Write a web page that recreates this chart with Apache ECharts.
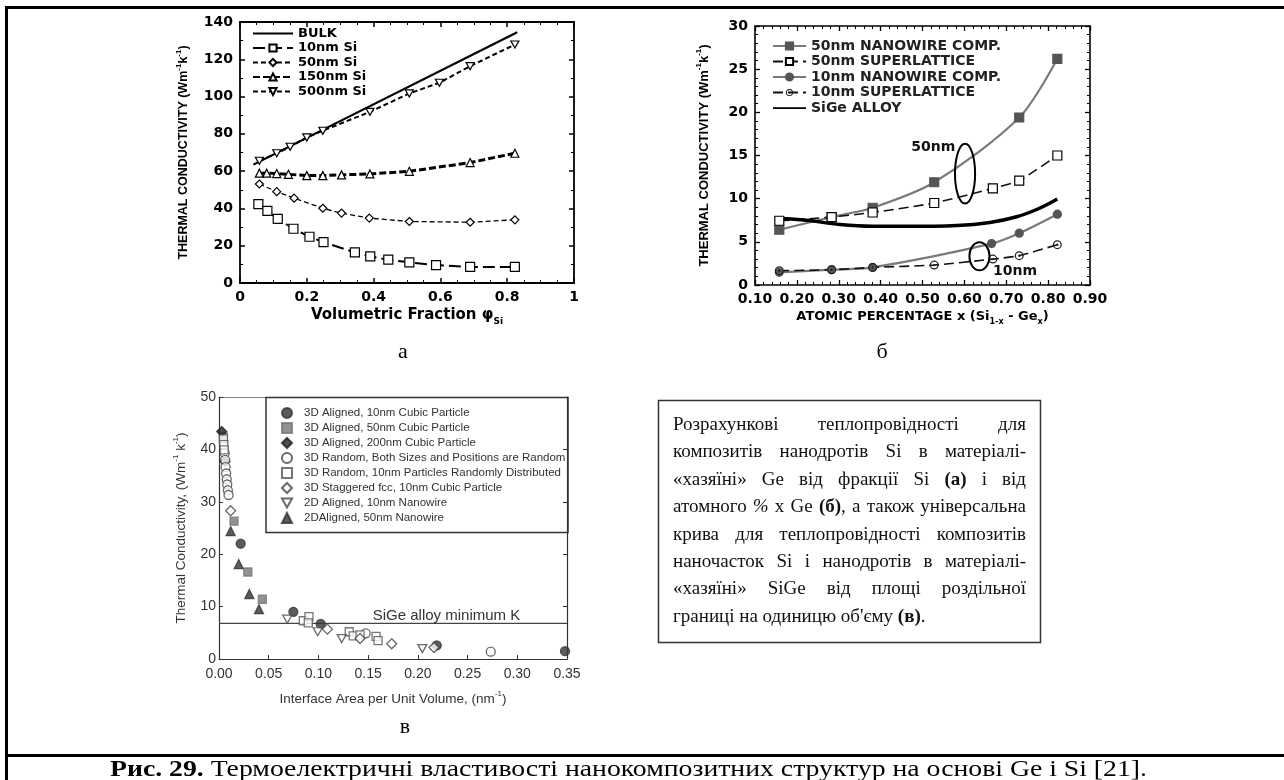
<!DOCTYPE html>
<html><head><meta charset="utf-8">
<script src="https://cdn.jsdelivr.net/npm/echarts@6/dist/echarts.min.js"></script>
<style>html,body{margin:0;padding:0;background:#fff}#c{width:1284px;height:780px}</style>
</head><body><div id="c"></div>
<script>
// ---------------- Chart а : Thermal conductivity vs volumetric fraction ----------------
const A_X_TICKS = {min:0, max:1, interval:0.2};
const A_Y_TICKS = {min:0, max:140, interval:20};
const A_BULK  = [[0.04,63.5],[0.83,134.5]];
const A_10NM  = [[0.055,42.3],[0.082,38.7],[0.113,34.4],[0.160,29.1],[0.208,24.8],[0.250,21.9],[0.344,16.4],[0.390,14.3],[0.444,12.5],[0.507,11.1],[0.587,9.6],[0.689,8.6],[0.823,8.6]];
const A_50NM  = [[0.058,53.1],[0.110,49.0],[0.162,45.5],[0.248,40.1],[0.304,37.5],[0.387,34.8],[0.507,33.0],[0.689,32.6],[0.823,33.9]];
const A_150NM = [[0.058,58.9],[0.080,58.9],[0.110,58.7],[0.145,58.3],[0.200,57.6],[0.248,57.6],[0.304,58.0],[0.389,58.5],[0.507,59.9],[0.689,64.6],[0.823,69.6]];
const A_500NM = [[0.058,65.6],[0.110,69.6],[0.150,73.1],[0.200,78.1],[0.248,81.7],[0.389,91.8],[0.507,101.7],[0.597,107.4],[0.689,116.3],[0.823,127.9]];
const A_NAMES = ['BULK','10nm Si','50nm Si','150nm Si','500nm Si'];

// ---------------- Chart б : Thermal conductivity vs atomic percentage ----------------
const B_X_TICKS = {min:0.1, max:0.9, interval:0.1};
const B_Y_TICKS = {min:0, max:30, interval:5};
const B_50NW  = [[0.158,6.4],[0.283,7.87],[0.381,8.95],[0.528,11.9],[0.731,19.4],[0.822,26.2]];
const B_50SL  = [[0.158,7.44],[0.283,7.87],[0.381,8.4],[0.528,9.5],[0.668,11.2],[0.731,12.1],[0.822,15.0]];
const B_10NW  = [[0.158,1.47],[0.283,1.77],[0.381,2.04],[0.665,4.8],[0.731,6.0],[0.822,8.2]];
const B_10SL  = [[0.158,1.66],[0.283,1.77],[0.381,2.04],[0.528,2.31],[0.668,3.0],[0.731,3.4],[0.822,4.67]];
const B_SIGE  = [[0.158,7.7],[0.223,7.5],[0.303,7.0],[0.381,6.8],[0.462,6.8],[0.582,6.9],[0.661,7.25],[0.725,7.9],[0.78,8.9],[0.822,9.95]];
const B_NAMES = ['50nm NANOWIRE COMP.','50nm SUPERLATTICE','10nm NANOWIRE COMP.','10nm SUPERLATTICE','SiGe ALLOY'];
const B_ELLIPSES = [ {c:[0.6016,12.9], r:[0.024,3.47]}, {c:[0.636,3.32], r:[0.024,1.62]} ];
const B_NOTES = [ {text:'50nm', at:[0.526,16.0]}, {text:'10nm', at:[0.721,1.58]} ];

// ---------------- Chart в : Thermal conductivity vs interface area ----------------
const C_X_TICKS = {min:0, max:0.35, interval:0.05};
const C_Y_TICKS = {min:0, max:50, interval:10};
const C_AL10   = [[0.0218,22.0],[0.0748,9.0],[0.1023,6.7],[0.219,2.6],[0.348,1.5]];
const C_AL50   = [[0.0043,42.4],[0.0151,26.3],[0.029,16.6],[0.0436,11.4]];
const C_AL200  = [[0.0027,43.4],[0.006,37.7]];
const C_RBOTH  = [[0.0058,39.3],[0.0062,38.0],[0.0066,36.6],[0.0072,35.4],[0.0078,34.3],[0.0083,33.3],[0.0089,32.2],[0.0096,31.3],[0.1475,4.9],[0.2733,1.4]];
const C_R10    = [[0.0045,42.0],[0.0048,40.9],[0.0052,39.9],[0.0848,7.3],[0.0905,8.1],[0.0898,6.9],[0.131,5.2],[0.135,4.4],[0.1418,4.6],[0.158,4.3],[0.160,3.5]];
const C_STAG   = [[0.0117,28.3],[0.109,5.7],[0.1418,3.9],[0.1737,2.9],[0.2162,2.2]];
const C_2D10   = [[0.0687,7.6],[0.0993,5.2],[0.1234,3.9],[0.2045,2.0]];
const C_2D50   = [[0.0117,24.4],[0.0198,18.1],[0.0305,12.4],[0.0402,9.5]];
const C_SIGE_MIN_K = 6.8;
const C_SIGE_LABEL = {text:'SiGe alloy minimum K', at:[0.2288,8.2]};
const C_NAMES = ['3D Aligned, 10nm Cubic Particle','3D Aligned, 50nm Cubic Particle','3D Aligned, 200nm Cubic Particle','3D Random, Both Sizes and Positions are Random','3D Random, 10nm Particles Randomly Distributed','3D Staggered fcc, 10nm Cubic Particle','2D Aligned, 10nm Nanowire','2DAligned, 50nm Nanowire'];

// ---------------- Texts ----------------
const PANEL_LABELS = ['а','б','в'];
const NOTE_LINES = [
  'Розрахункові теплопровідності для',
  'композитів нанодротів Si в матеріалі-',
  '«хазяїні» Ge від фракції Si (а) і від',
  'атомного % х Ge (б), а також універсальна',
  'крива для теплопровідності композитів',
  'наночасток Si і нанодротів в матеріалі-',
  '«хазяїні» SiGe від площі роздільної',
  'границі на одиницю об\'єму (в).'
];
const CAPTION_BOLD = 'Рис. 29.';
const CAPTION_REST = ' Термоелектричні властивості нанокомпозитних структур на основі Ge і Si [21].';

// ================= build =================
const WIDE = 'DejaVu Sans', ARIAL = 'Liberation Sans', SERIF = '"Liberation Serif", "Times New Roman", serif';
const LINE_ICON = 'path://M0,0h0.01v0.01h-0.01Z M0,3.6H40V5.6H0Z M0,9h0.01v-0.01h-0.01Z';
const DOWN_TRI = 'path://M0,0L10,0L5,9Z';
const DOT_RING = 'path://M5,0A5,5 0 1,1 5,10A5,5 0 1,1 5,0Z M5,1.4A3.6,3.6 0 1,0 5,8.6A3.6,3.6 0 1,0 5,1.4Z M5,3.7A1.3,1.3 0 1,1 5,6.3A1.3,1.3 0 1,1 5,3.7Z';

function richName(fam, weight, size, color){
  return {
    n:{fontFamily:fam, fontWeight:weight, fontSize:size, color:color, lineHeight:size+6, verticalAlign:'middle'},
    p:{fontFamily:fam, fontWeight:weight, fontSize:Math.round(size*0.62), color:color, lineHeight:8, verticalAlign:'top'},
    s:{fontFamily:fam, fontWeight:weight, fontSize:Math.round(size*0.62), color:color, lineHeight:8, verticalAlign:'bottom'}
  };
}

function axisPair(kind, gridIndex, ticks, o){
  const main = {
    gridIndex, type:'value', min:ticks.min, max:ticks.max, interval:ticks.interval,
    position: kind==='x' ? 'bottom' : 'left',
    axisLine:{onZero:false, lineStyle:{color:o.lineColor, width:o.lineWidth}},
    axisTick:{show:true, inside:true, length:o.tickLen, lineStyle:{color:o.lineColor, width:o.tickWidth}},
    minorTick:{show:!!o.minor, splitNumber:o.minor||5, length:Math.max(2,o.tickLen-2), lineStyle:{color:o.lineColor, width:1}},
    splitLine:{show:false}, minorSplitLine:{show:false},
    axisLabel:{fontFamily:o.fam, fontWeight:o.weight, fontSize:o.size, color:o.labelColor, margin:o.margin,
      formatter: o.fmt},
    name:o.name, nameLocation:'middle', nameGap:o.nameGap,
    nameTextStyle:{rich:o.rich}
  };
  const twin = {
    gridIndex, type:'value', min:ticks.min, max:ticks.max, interval:ticks.interval,
    position: kind==='x' ? 'top' : 'right',
    axisLine:{onZero:false, lineStyle:{color:o.twinColor||o.lineColor, width:o.lineWidth}},
    axisTick:{show:o.twinTicks!==false, inside:true, length:o.tickLen, lineStyle:{color:o.lineColor, width:o.tickWidth}},
    minorTick:{show:!!o.minor && o.twinTicks!==false, splitNumber:o.minor||5, length:Math.max(2,o.tickLen-2), lineStyle:{color:o.lineColor, width:1}},
    splitLine:{show:false}, minorSplitLine:{show:false},
    axisLabel:{show:false}
  };
  return [main, twin];
}

const aStyle = {lineColor:'#000', lineWidth:1.8, tickLen:5, tickWidth:1.5, fam:WIDE, weight:'bold', size:14, labelColor:'#000'};
const bStyle = {lineColor:'#000', lineWidth:1.6, tickLen:5, tickWidth:1.3, fam:WIDE, weight:'bold', size:14, labelColor:'#000'};
const cStyle = {lineColor:'#333', lineWidth:1.2, tickLen:4, tickWidth:1, fam:ARIAL, weight:'normal', size:14, labelColor:'#333'};

const xAxes = [], yAxes = [];
xAxes.push(...axisPair('x',0,A_X_TICKS,Object.assign({},aStyle,{minor:4, margin:7,
  name:'{n|Volumetric Fraction }{n|φ}{s|Si}', nameGap:22, rich:richName(WIDE,'bold',15,'#000')})));
yAxes.push(...axisPair('y',0,A_Y_TICKS,Object.assign({},aStyle,{minor:2, margin:7,
  name:'{n|THERMAL CONDUCTIVITY (Wm}{p|-1}{n|k}{p|-1}{n|)}', nameGap:47, rich:richName(ARIAL,'bold',12.5,'#000')})));
xAxes.push(...axisPair('x',1,B_X_TICKS,Object.assign({},bStyle,{minor:5, margin:7, fmt:v=>v.toFixed(2),
  name:'{n|ATOMIC PERCENTAGE x (Si}{s|1-x}{n| - Ge}{s|x}{n|)}', nameGap:22, rich:richName(WIDE,'bold',13,'#000')})));
yAxes.push(...axisPair('y',1,B_Y_TICKS,Object.assign({},bStyle,{minor:5, margin:7,
  name:'{n|THERMAL CONDUCTIVITY (Wm}{p|-1}{n|k}{p|-1}{n|)}', nameGap:41, rich:richName(ARIAL,'bold',13,'#000')})));
xAxes.push(...axisPair('x',2,C_X_TICKS,Object.assign({},cStyle,{margin:8, twinTicks:false, twinColor:'#888', fmt:v=>v.toFixed(2),
  name:'{n|Interface Area per Unit Volume, (nm}{p|-1}{n|)}', nameGap:31, rich:richName(ARIAL,'normal',13.5,'#333')})));
yAxes.push(...axisPair('y',2,C_Y_TICKS,Object.assign({},cStyle,{margin:3,
  name:'{n|Thermal Conductivity, (Wm}{p|-1}{n| k}{p|-1}{n|)}', nameGap:28, rich:richName(ARIAL,'normal',13.5,'#333')})));

function lineSeries(name, data, gi, o){
  return {
    name, type:'line', data, xAxisIndex:gi*2, yAxisIndex:gi*2,
    symbol:o.symbol||'none', symbolSize:o.size||8, smooth:!!o.smooth ? o.smooth : false,
    showSymbol: !!o.symbol, z: o.z||2,
    lineStyle:{color:o.color||'#000', width:o.width||1.5, type:o.dash||'solid'},
    itemStyle:{color:o.fill||'#fff', borderColor:o.stroke||'#000', borderWidth:o.bw!==undefined?o.bw:1.2}
  };
}
function scatterSeries(name, data, o){
  return {name, type:'scatter', data, xAxisIndex:4, yAxisIndex:4, symbol:o.symbol, symbolSize:o.size||9,
    z:3, itemStyle:{color:o.fill, borderColor:o.stroke||o.fill, borderWidth:o.bw||1.3}};
}

const series = [
  lineSeries(A_NAMES[0], A_BULK, 0, {width:2.2}),
  lineSeries(A_NAMES[1], A_10NM, 0, {symbol:'rect', size:9, dash:[12,5], width:2}),
  lineSeries(A_NAMES[2], A_50NM, 0, {symbol:'diamond', size:8, dash:[5,3], width:1.3}),
  lineSeries(A_NAMES[3], A_150NM, 0, {symbol:'triangle', size:8, dash:[7,3], width:3}),
  lineSeries(A_NAMES[4], A_500NM, 0, {symbol:DOWN_TRI, size:[8,7], dash:[5,3], width:2}),

  lineSeries(B_NAMES[0], B_50NW, 1, {symbol:'rect', size:9, fill:'#555', stroke:'#555', color:'#7a7a7a', width:2.2, smooth:0.3}),
  lineSeries(B_NAMES[1], B_50SL, 1, {symbol:'rect', size:9, dash:[10,5], color:'#111', width:1.6, smooth:0.2}),
  lineSeries(B_NAMES[2], B_10NW, 1, {symbol:'circle', size:8, fill:'#555', stroke:'#555', color:'#7a7a7a', width:2.2, smooth:0.3}),
  lineSeries(B_NAMES[3], B_10SL, 1, {symbol:DOT_RING, size:9, dash:[10,5], color:'#111', fill:'#222', bw:0, width:1.6, smooth:0.2}),
  lineSeries(B_NAMES[4], B_SIGE, 1, {width:3.5, color:'#000', fill:'#000', smooth:0.4}),

  {name:'SiGe min', type:'line', data:[[C_X_TICKS.min,C_SIGE_MIN_K],[C_X_TICKS.max,C_SIGE_MIN_K]], xAxisIndex:4, yAxisIndex:4,
    symbol:'none', lineStyle:{color:'#444', width:1.2}, z:1},
  scatterSeries(C_NAMES[0], C_AL10, {symbol:'circle', fill:'#333'}),
  scatterSeries(C_NAMES[1], C_AL50, {symbol:'rect', fill:'#777', size:8}),
  scatterSeries(C_NAMES[2], C_AL200, {symbol:'diamond', fill:'#222', size:10}),
  scatterSeries(C_NAMES[3], C_RBOTH, {symbol:'circle', fill:'#fff', stroke:'#444'}),
  scatterSeries(C_NAMES[4], C_R10, {symbol:'rect', fill:'#fff', stroke:'#555', size:8}),
  scatterSeries(C_NAMES[5], C_STAG, {symbol:'diamond', fill:'#fff', stroke:'#444', size:10}),
  scatterSeries(C_NAMES[6], C_2D10, {symbol:DOWN_TRI, fill:'#fff', stroke:'#444', size:[9,8]}),
  scatterSeries(C_NAMES[7], C_2D50, {symbol:'triangle', fill:'#333'})
];

const legendA = A_NAMES.map((n,i)=> i===0 ? {name:n, icon:LINE_ICON, itemStyle:{color:'#000', borderWidth:0}} : {name:n});
const legendB = B_NAMES.map((n,i)=> i===4 ? {name:n, icon:LINE_ICON, itemStyle:{color:'#000', borderWidth:0}} : {name:n});
const legendC = C_NAMES.map((n,i)=> i===6 ? {name:n, icon:DOWN_TRI} : {name:n});

const option = {
  animation:false,
  backgroundColor:'#fff',
  grid:[
    {left:240, top:22, width:334, height:261},
    {left:755, top:26, width:335, height:259},
    {left:219, top:397, width:348, height:262}
  ],
  xAxis:xAxes, yAxis:yAxes,
  legend:[
    {data:legendA, orient:'vertical', left:252, top:27, padding:0, itemWidth:40, itemHeight:9, itemGap:1.5, selectedMode:false,
      textStyle:{fontFamily:WIDE, fontWeight:'bold', fontSize:13, lineHeight:13, color:'#000'}},
    {data:legendB, orient:'vertical', left:772, top:39, padding:0, itemWidth:33, itemHeight:9, itemGap:1.5, selectedMode:false,
      textStyle:{fontFamily:WIDE, fontWeight:'bold', fontSize:14, lineHeight:13, color:'#222'}},
    {data:legendC, orient:'vertical', left:281, top:407, padding:0, itemWidth:10, itemHeight:10, itemGap:3, selectedMode:false,
      textStyle:{fontFamily:ARIAL, fontSize:11.5, lineHeight:12, color:'#333', padding:[0,0,0,7]}}
  ],
  series
};

const chart = echarts.init(document.getElementById('c'), null, {renderer:'canvas', width:1284, height:780});
chart.setOption(option);

// ---------- graphics ----------
const ctx = document.createElement('canvas').getContext('2d');
function tw(t, font){ ctx.font = font; return ctx.measureText(t).width; }
const g = [];
// outer frame
g.push({type:'rect', shape:{x:5, y:6, width:1279, height:3}, style:{fill:'#000'}, silent:true});
g.push({type:'rect', shape:{x:5, y:6, width:3, height:774}, style:{fill:'#000'}, silent:true});
g.push({type:'rect', shape:{x:5, y:754, width:1279, height:3}, style:{fill:'#000'}, silent:true});
// panel labels
const labelPos = [[403,352],[882,352],[405,727]];
PANEL_LABELS.forEach((t,i)=>g.push({type:'text', x:labelPos[i][0], y:labelPos[i][1],
  style:{text:t, font:'22px '+SERIF, fill:'#000', align:'center', verticalAlign:'middle'}}));
// legend box of chart в
g.push({type:'rect', shape:{x:266, y:397.5, width:302, height:135}, style:{fill:'none', stroke:'#333', lineWidth:1.5}, z:10});
// note box
g.push({type:'rect', shape:{x:658.5, y:400.5, width:382, height:242}, style:{fill:'none', stroke:'#333', lineWidth:1.5}});
(function(){
  const fs = 19, x0 = 673, x1 = 1026, y0 = 425, lh = 27.4;
  const fontOf = (w,it)=> (it?'italic ':'') + w + ' ' + fs + 'px ' + SERIF;
  NOTE_LINES.forEach((line,i)=>{
    const words = line.split(' ');
    const parts = words.map(w=>{
      const m = w.match(/^\([абв]\)/);
      let segs;
      if (m) { segs=[{t:m[0], w:'bold'}]; if (w.length>m[0].length) segs.push({t:w.slice(m[0].length), w:'normal'}); }
      else if (w==='%') segs=[{t:w, w:'normal', it:true}];
      else segs=[{t:w, w:'normal'}];
      segs.forEach(s=>s.width = tw(s.t, fontOf(s.w,s.it)));
      return segs;
    });
    const total = parts.reduce((a,p)=>a+p.reduce((b,s)=>b+s.width,0),0);
    const last = i===NOTE_LINES.length-1;
    const gap = last ? tw(' ', fontOf('normal')) : (x1-x0-total)/(words.length-1);
    let x = x0;
    parts.forEach(p=>{ p.forEach(s=>{ g.push({type:'text', x, y:y0+i*lh, style:{text:s.t, font:fontOf(s.w,s.it), fill:'#111', verticalAlign:'middle'}}); x+=s.width; }); x+=gap; });
  });
})();
// caption
(function(){
  const f1 = 'bold 23px '+SERIF, f2 = '23px '+SERIF;
  const w1 = tw(CAPTION_BOLD,f1), w2 = tw(CAPTION_REST,f2);
  const sx = (1147-110)/(w1+w2);
  g.push({type:'group', x:110, y:770, scaleX:sx, children:[
    {type:'text', x:0, y:0, style:{text:CAPTION_BOLD, font:f1, fill:'#000', verticalAlign:'middle'}},
    {type:'text', x:w1, y:0, style:{text:CAPTION_REST, font:f2, fill:'#000', verticalAlign:'middle'}}
  ]});
})();
// annotations on chart б (through the chart's scales)
const bIdx = series.findIndex(s=>s.name===B_NAMES[4]);
B_ELLIPSES.forEach(e=>{
  const c = chart.convertToPixel({seriesIndex:bIdx}, e.c);
  const r = chart.convertToPixel({seriesIndex:bIdx}, [e.c[0]+e.r[0], e.c[1]+e.r[1]]);
  g.push({type:'ellipse', shape:{cx:c[0], cy:c[1], rx:Math.abs(r[0]-c[0]), ry:Math.abs(r[1]-c[1])},
    style:{fill:'none', stroke:'#000', lineWidth:2}, z:20});
});
B_NOTES.forEach(n=>{
  const p = chart.convertToPixel({seriesIndex:bIdx}, n.at);
  g.push({type:'text', x:p[0], y:p[1], style:{text:n.text, font:'bold 14px "'+WIDE+'"', fill:'#111', align:'center', verticalAlign:'middle'}, z:20});
});
// label on chart в
const cIdx = series.findIndex(s=>s.name==='SiGe min');
(function(){
  const p = chart.convertToPixel({seriesIndex:cIdx}, C_SIGE_LABEL.at);
  g.push({type:'text', x:p[0], y:p[1], style:{text:C_SIGE_LABEL.text, font:'15px "'+ARIAL+'"', fill:'#333', align:'center', verticalAlign:'middle'}, z:20});
})();
chart.setOption({graphic:g});
</script>
</body></html>
